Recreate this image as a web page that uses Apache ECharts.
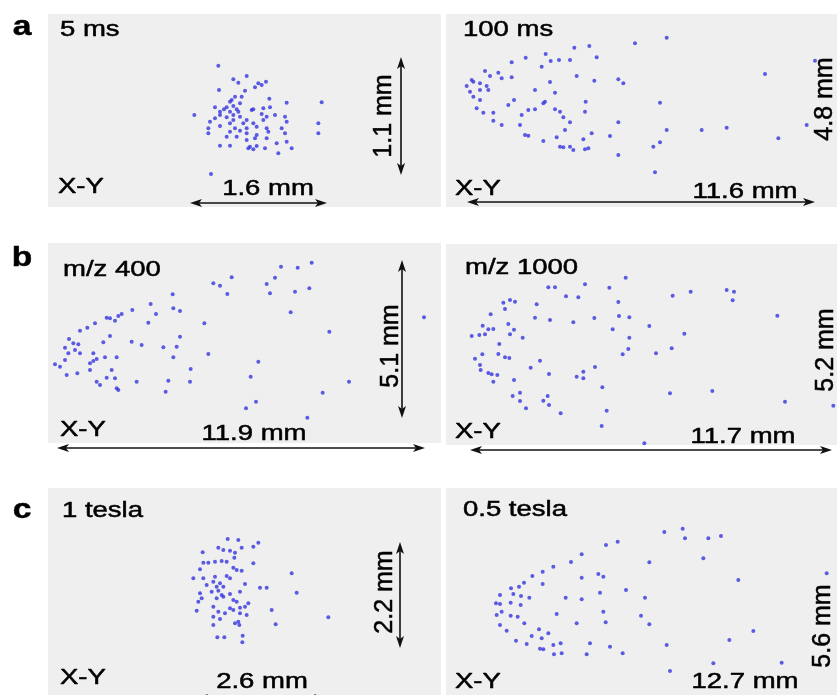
<!DOCTYPE html>
<html><head><meta charset="utf-8">
<script src="https://cdn.jsdelivr.net/npm/echarts@6/dist/echarts.min.js"></script>
<style>html,body{margin:0;padding:0;background:#fff}#c{width:837px;height:695px}</style>
</head><body><div id="c"></div>
<script>
// Ion positions (units: 1/3 of a reference pixel, per panel crop frame)
const aLeftPts = [[655,197],[740,228],[700,238],[715,248],[775,250],[785,255],[798,245],[657,270],[735,272],[705,290],[725,290],[808,296],[860,308],[965,307],[690,305],[720,310],[645,322],[680,322],[700,318],[760,328],[790,325],[810,322],[660,335],[690,335],[715,335],[755,330],[583,345],[660,345],[700,345],[720,350],[785,342],[825,345],[855,350],[645,355],[680,352],[700,360],[740,360],[800,350],[630,365],[690,370],[730,370],[760,370],[790,360],[860,365],[955,370],[625,385],[660,378],[705,385],[740,385],[770,380],[800,385],[845,385],[625,400],[690,395],[720,392],[740,400],[770,405],[805,395],[855,400],[955,400],[680,410],[710,410],[765,415],[800,415],[740,420],[660,437],[690,437],[750,440],[770,438],[795,445],[830,430],[860,425],[875,445],[745,445],[760,448],[835,460],[633,522],[672,328],[710,328],[695,300],[765,262]];
const aRightPts = [[680,113],[585,130],[448,138],[403,143],[317,162],[470,172],[257,173],[215,187],[332,183],[357,180],[390,180],[305,200],[1125,182],[135,213],[175,218],[185,235],[150,228],[215,232],[410,228],[463,242],[535,238],[550,250],[975,222],[95,240],[100,245],[120,250],[330,246],[80,258],[140,258],[145,270],[120,270],[90,275],[285,270],[345,278],[100,290],[120,300],[222,300],[205,315],[315,305],[310,310],[437,305],[660,308],[110,325],[130,338],[265,330],[285,328],[345,328],[360,335],[435,335],[160,338],[245,345],[370,352],[160,362],[185,375],[240,375],[390,367],[535,367],[1100,375],[375,390],[455,400],[680,390],[785,390],[860,383],[255,405],[265,407],[350,412],[510,408],[430,418],[1015,415],[310,423],[360,440],[370,442],[390,440],[400,450],[435,448],[445,445],[660,427],[640,440],[535,465],[645,517]];
const bLeftPts = [[935,83],[843,95],[893,98],[695,127],[825,128],[640,145],[800,147],[660,152],[682,177],[810,175],[885,170],[928,160],[518,178],[452,207],[520,220],[540,228],[397,225],[468,237],[872,232],[365,237],[355,243],[345,257],[320,248],[330,250],[285,265],[262,278],[445,263],[613,265],[1272,247],[240,287],[988,290],[330,303],[207,312],[235,328],[220,325],[310,322],[395,320],[425,330],[490,337],[530,335],[540,305],[195,338],[225,345],[205,355],[240,355],[280,355],[625,357],[520,367],[350,367],[315,367],[280,378],[290,372],[270,385],[195,375],[165,388],[180,395],[270,405],[335,405],[572,402],[775,380],[200,420],[232,415],[320,428],[345,430],[410,440],[505,437],[570,440],[752,425],[1047,440],[290,440],[300,450],[350,460],[355,465],[497,470],[968,473],[768,500],[738,520],[922,548]];
const bRightPts = [[557,128],[325,157],[345,157],[435,148],[508,158],[378,184],[415,187],[698,182],[752,170],[860,165],[882,170],[878,196],[190,203],[210,195],[225,200],[535,201],[290,208],[195,222],[152,238],[285,248],[330,255],[400,262],[463,249],[537,243],[568,247],[1012,242],[128,272],[205,267],[145,283],[160,282],[135,298],[95,303],[118,300],[210,298],[222,284],[248,308],[518,283],[628,273],[733,296],[568,308],[178,327],[565,342],[695,340],[127,358],[105,371],[175,357],[195,367],[208,369],[548,358],[648,355],[300,377],[120,390],[272,398],[465,396],[122,405],[145,414],[155,418],[172,420],[160,440],[222,435],[327,417],[410,425],[430,410],[430,430],[487,457],[690,475],[817,468],[218,483],[240,473],[240,498],[310,497],[323,483],[327,510],[258,520],[362,535],[500,527],[1035,500],[1180,512],[485,573],[613,625]];
const cLeftPts = [[683,207],[715,210],[775,218],[760,230],[655,233],[725,233],[670,240],[690,242],[705,248],[608,247],[703,263],[760,280],[610,278],[625,278],[645,275],[665,273],[680,275],[600,298],[700,293],[710,300],[725,302],[875,310],[580,325],[610,325],[645,320],[680,318],[690,325],[640,335],[660,340],[620,345],[650,350],[670,350],[735,342],[780,353],[800,353],[890,368],[600,370],[635,365],[655,362],[665,375],[690,372],[720,365],[605,385],[650,385],[670,380],[700,390],[745,400],[595,395],[640,410],[710,395],[690,415],[700,420],[720,413],[735,410],[815,420],[590,422],[655,425],[675,430],[640,440],[660,447],[720,430],[740,435],[985,442],[715,455],[705,460],[718,465],[827,463],[640,465],[652,502],[673,502],[728,497],[727,517]];
const cRightPts = [[673,186],[728,176],[735,205],[805,205],[843,198],[498,225],[533,215],[425,253],[393,276],[340,290],[628,277],[790,265],[308,305],[277,318],[252,338],[237,350],[213,355],[425,323],[475,312],[490,320],[308,342],[895,330],[1160,310],[180,375],[220,372],[243,378],[268,383],[377,383],[425,388],[480,368],[558,360],[615,383],[168,400],[180,402],[212,398],[242,405],[185,425],[170,435],[212,437],[233,440],[350,432],[490,425],[603,437],[253,460],[180,465],[410,460],[497,457],[628,463],[200,482],[297,478],[325,490],[275,498],[305,505],[228,512],[260,522],[300,536],[310,538],[340,525],[362,520],[450,520],[510,530],[680,525],[868,510],[940,483],[342,553],[365,550],[440,553],[548,550],[820,580],[1025,578],[690,603]];

const panelTitles = ['5 ms','100 ms','m/z 400','m/z 1000','1 tesla','0.5 tesla'];
const widthLabels = ['1.6 mm','11.6 mm','11.9 mm','11.7 mm','2.6 mm','12.7 mm'];
const heightLabels = ['1.1 mm','4.8 mm','5.1 mm','5.2 mm','2.2 mm','5.6 mm'];
const rowLetters = ['a','b','c'];

const panels = [
  {pts:aLeftPts,  rect:{left:48, top:14, width:393, height:193}, x:[144,1323], y:[42,621]},
  {pts:aRightPts, rect:{left:446,top:14, width:391, height:193}, x:[18,1191],  y:[42,621]},
  {pts:bLeftPts,  rect:{left:48, top:243,width:393, height:200}, x:[144,1323], y:[24,624]},
  {pts:bRightPts, rect:{left:446,top:244,width:391, height:201}, x:[18,1191],  y:[27,630]},
  {pts:cLeftPts,  rect:{left:48, top:488,width:393, height:207}, x:[144,1323], y:[54,675]},
  {pts:cRightPts, rect:{left:446,top:488,width:391, height:207}, x:[18,1191],  y:[54,675]}
];

const FONT = '"Liberation Sans", Arial, sans-serif';
const grid=[], xAxis=[], yAxis=[], series=[];
panels.forEach((p,i)=>{
  grid.push(Object.assign({show:true, backgroundColor:'#efefef', borderWidth:0}, p.rect));
  xAxis.push({type:'value', gridIndex:i, min:p.x[0], max:p.x[1], show:false});
  yAxis.push({type:'value', gridIndex:i, min:p.y[0], max:p.y[1], inverse:true, show:false});
  series.push({type:'scatter', xAxisIndex:i, yAxisIndex:i, data:p.pts, symbolSize:4,
    itemStyle:{color:'#3434e0'}, silent:true, animation:false});
});

const g = [];
function txt(x,y,s,style,el){
  g.push(Object.assign({type:'text', x:x, y:y, scaleX:1.25,
    style:Object.assign({text:s, font:'22px '+FONT, fill:'#000', stroke:'#000', lineWidth:0.5, textAlign:'left', textVerticalAlign:'middle'}, style||{})}, el||{}));
}
function harrow(x1,x2,y){
  g.push({type:'line', shape:{x1:x1+6,y1:y,x2:x2-6,y2:y}, style:{stroke:'#111', lineWidth:1.6}});
  g.push({type:'polygon', shape:{points:[[x1,y],[x1+12,y-4],[x1+9,y],[x1+12,y+4]]}, style:{fill:'#111'}});
  g.push({type:'polygon', shape:{points:[[x2,y],[x2-12,y-4],[x2-9,y],[x2-12,y+4]]}, style:{fill:'#111'}});
}
function varrow(x,y1,y2){
  g.push({type:'line', shape:{x1:x,y1:y1+6,x2:x,y2:y2-6}, style:{stroke:'#111', lineWidth:1.6}});
  g.push({type:'polygon', shape:{points:[[x,y1],[x-4,y1+12],[x,y1+9],[x+4,y1+12]]}, style:{fill:'#111'}});
  g.push({type:'polygon', shape:{points:[[x,y2],[x-4,y2-12],[x,y2-9],[x+4,y2-12]]}, style:{fill:'#111'}});
}
// row letters
[[22,27],[22,258],[22,510]].forEach((pos,i)=>txt(pos[0],pos[1],rowLetters[i],{font:'bold 28px '+FONT, textAlign:'center'},{scaleX:1.2}));
// titles and X-Y tags
const titlePos = [[60,30],[463,30],[63,270],[465,268],[62,511],[463,510]];
const xyPos = [[58,187],[455,189],[60,430],[455,432],[60,678],[455,682]];
titlePos.forEach((p,i)=>txt(p[0],p[1],panelTitles[i]));
xyPos.forEach(p=>txt(p[0],p[1],'X-Y'));
// width labels
const wPos = [[268,189],[745,192],[254,434],[743,437],[262,682],[745,682]];
wPos.forEach((p,i)=>txt(p[0],p[1],widthLabels[i],{textAlign:'center'}));
// height labels (rotated)
const hPos = [[384,116],[825,99],[391,346],[826,350],[385,592],[823,626]];
hPos.forEach((p,i)=>g.push({type:'text', x:p[0], y:p[1], rotation:Math.PI/2,
  style:{text:heightLabels[i], font:'25px '+FONT, fill:'#000', stroke:'#000', lineWidth:0.5, textAlign:'center', textVerticalAlign:'middle'}}));
// arrows
harrow(190,327,203); varrow(401,57,175);
harrow(467,815,202);
harrow(57,425,448); varrow(402,260,418);
harrow(470,832,450);
varrow(400,542,648);
harrow(196,326,698);

const chart = echarts.init(document.getElementById('c'), null, {renderer:'canvas'});
chart.setOption({animation:false, grid, xAxis, yAxis, series, graphic:{elements:g}});
</script></body></html>
